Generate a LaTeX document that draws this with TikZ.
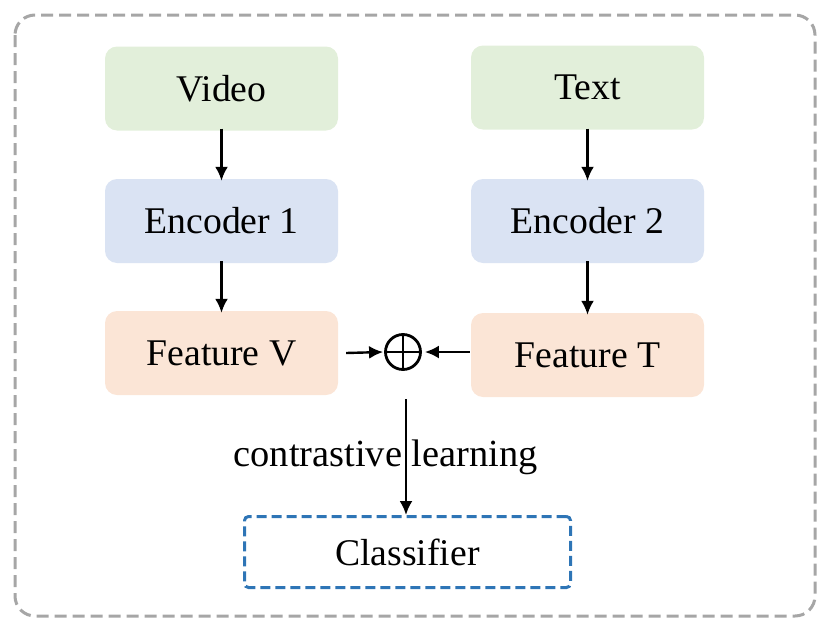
\documentclass[tikz,border=0pt]{standalone}
\usepackage{fontspec}
\setmainfont{Liberation Serif}
\usetikzlibrary{arrows.meta}
\definecolor{gfill}{HTML}{E2EFDA}
\definecolor{bfill}{HTML}{DAE3F3}
\definecolor{ofill}{HTML}{FBE5D6}
\definecolor{clsblue}{HTML}{2E75B6}
\definecolor{outgray}{HTML}{A6A6A6}
\tikzset{
  blk/.style={draw=none, rounded corners=12pt, minimum width=233pt, minimum height=84pt, inner sep=0pt, font=\fontsize{37.7}{44}\selectfont},
  vid/.style={blk, fill=gfill},
  enc/.style={blk, fill=bfill},
  feat/.style={blk, fill=ofill},
  arr/.style={-{Latex[length=14pt,width=13pt]}, line width=2.4pt, black},
}
\begin{document}
\begin{tikzpicture}[x=1pt,y=-1pt]
\useasboundingbox (0,0) rectangle (830,632);
\draw[outgray, line width=3pt, dash pattern=on 12pt off 6pt, rounded corners=20pt] (15,15) rectangle (815,616);
\node[vid] (video) at (221.5,88.5) {Video};
\node[vid] (text) at (587.5,87.5) {Text};
\node[enc] (enc1) at (221.5,221) {Encoder 1};
\node[enc] (enc2) at (587.5,221) {Encoder 2};
\node[feat] (fv) at (221.5,353) {Feature V};
\node[feat] (ft) at (587.5,355) {Feature T};
\node[draw=black, line width=2.8pt, circle, minimum size=35pt, inner sep=0pt] (op) at (403,352) {};
\draw[line width=2.6pt] (op.north) -- (op.south) (op.west) -- (op.east);
\node[draw=clsblue, line width=3pt, dash pattern=on 10pt off 5pt, rounded corners=4pt, minimum width=326pt, minimum height=71pt, inner sep=0pt, font=\fontsize{37.7}{44}\selectfont] (cls) at (407.5,552) {Classifier};
\draw[arr] ([yshift=2pt]video.south) -- ([yshift=-2pt]enc1.north);
\draw[arr] ([yshift=2pt]enc1.south) -- ([yshift=-2pt]fv.north);
\draw[arr] ([yshift=1pt]text.south) -- ([yshift=-2pt]enc2.north);
\draw[arr] ([yshift=2pt]enc2.south) -- ([yshift=-2pt]ft.north);
\draw[arr] ([xshift=8pt]fv.east) -- ([xshift=-1pt]op.west);
\draw[arr] ([xshift=-1pt]ft.west |- op.east) -- ([xshift=3pt]op.east);
\coordinate (dstart) at (406,399);
\draw[arr] (dstart) -- (cls.north -| dstart);
\node[font=\fontsize{38.4}{46}\selectfont] (lbl) at (385.5,457) {contrastive learning};
\end{tikzpicture}
\end{document}
